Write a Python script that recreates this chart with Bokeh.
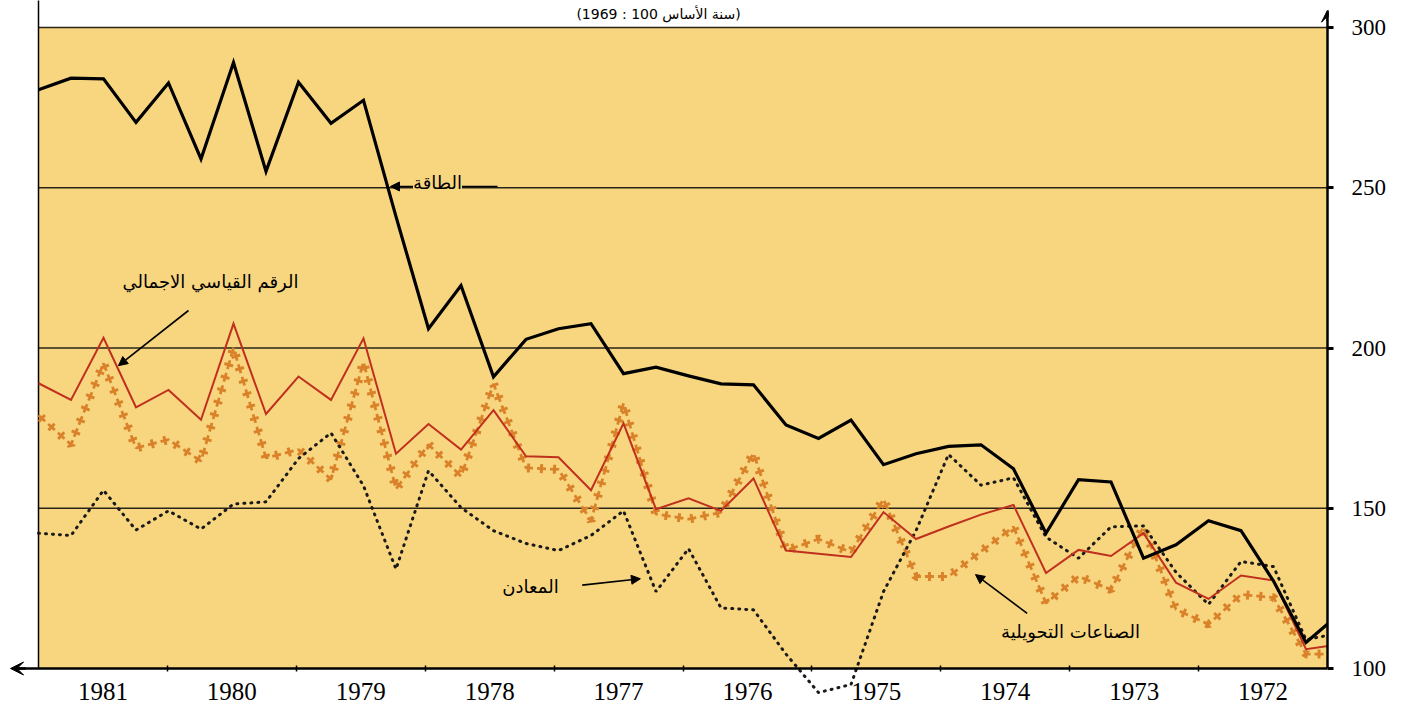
import numpy as np
from bokeh.plotting import figure
from bokeh.models import Range1d, LinearAxis, FixedTicker, Label, Arrow, VeeHead, NormalHead
from bokeh.embed import file_html
from bokeh.resources import INLINE

# ---------------- data (left -> right, quarterly) ----------------
years = ["1981", "1980", "1979", "1978", "1977", "1976", "1975", "1974", "1973", "1972"]
y_ticks = [100, 150, 200, 250, 300]

energy = [280.6, 284.2, 284.0, 270.4, 282.7, 259.0, 289.1, 255.1, 282.9, 270.1,
          277.3, 241.0, 206.0, 219.5, 191.0, 202.7, 206.0, 207.6, 192.0, 194.0,
          191.3, 188.8, 188.5, 176.0, 171.8, 177.5, 163.6, 167.0, 169.3, 169.8,
          162.3, 142.2, 158.9, 158.2, 134.4, 138.6, 146.1, 143.0, 127.3, 108.1, 116.8]
overall = [189.0, 183.8, 203.2, 181.5, 186.9, 177.6, 207.6, 179.4, 191.1, 183.8,
           203.0, 167.0, 176.3, 168.3, 180.6, 166.2, 165.9, 155.6, 176.5, 149.7,
           153.1, 149.2, 159.3, 136.8, 135.8, 134.8, 148.8, 140.4, 144.3, 148.0,
           151.0, 129.8, 137.0, 135.1, 142.2, 126.8, 121.7, 129.0, 127.5, 106.0, 107.5]
manufacturing = [179.0, 169.9, 195.2, 168.8, 171.4, 164.7, 200.0, 165.7, 168.3, 159.0,
                 195.7, 156.0, 169.9, 160.0, 188.8, 162.6, 162.1, 146.1, 182.7, 148.2,
                 146.6, 148.7, 167.2, 136.8, 140.4, 136.3, 152.8, 128.7, 128.7, 136.5,
                 144.2, 120.4, 128.7, 124.6, 144.2, 118.4, 113.8, 123.1, 122.1, 104.5, 104.5]
minerals = [142.2, 141.5, 155.6, 143.2, 149.2, 143.5, 151.3, 152.0, 165.5, 173.5,
            157.0, 131.0, 161.7, 150.2, 143.0, 139.0, 136.8, 141.5, 149.2, 124.0,
            137.4, 118.9, 118.3, 104.5, 92.5, 95.0, 124.0, 143.0, 166.8, 157.2,
            159.5, 141.0, 134.4, 144.2, 144.5, 130.0, 120.0, 133.4, 131.8, 109.0, 111.0]

title_text = "(سنة الأساس 100 : 1969)"
lbl_energy = "الطاقة"
lbl_overall = "الرقم القياسي الاجمالي"
lbl_minerals = "المعادن"
lbl_manuf = "الصناعات التحويلية"

# ---------------- layout / style ----------------
x = list(range(len(energy)))
PX = 32.5                      # pixels per quarter
PY = 3.205                     # pixels per index point
X0 = -38 / PX                  # frame starts 38 px left of the plot area
X1 = 1289 / PX                 # right edge of the plot area (right axis)
QPY = X1 / len(years)          # drawn width of one year, in quarters
YELLOW = "#F8D680"
SERIF = "Liberation Serif"
ARABIC = "DejaVu Sans"

p = figure(width=1410, height=713, output_backend="svg", toolbar_location=None,
           x_range=Range1d(X0, X1), y_range=Range1d(100 - 45 / PY, 300 + 27 / PY),
           x_axis_location=None, y_axis_location="right",
           min_border_left=0, min_border_top=0, min_border_bottom=0, min_border_right=83)
p.outline_line_color = None
p.xgrid.visible = False
p.ygrid.visible = False
p.background_fill_color = "white"

# yellow plot area
p.quad(left=0, right=X1, bottom=100, top=300, fill_color=YELLOW, line_color=None)
# horizontal rules
p.segment(x0=[0] * 4, x1=[X1] * 4, y0=y_ticks[1:], y1=y_ticks[1:], line_color="#2a2418", line_width=1.4)
# left border line
p.segment(x0=[0], x1=[0], y0=[100], y1=[312], line_color="black", line_width=1.5)

# right axis
yax = p.yaxis[0]
yax.ticker = FixedTicker(ticks=y_ticks)
yax.bounds = (100, 305.0)
yax.axis_line_width = 2.5
yax.major_tick_in = 0
yax.major_tick_out = 6
yax.major_tick_line_width = 3
yax.minor_tick_line_color = None
yax.major_label_text_font = SERIF
yax.major_label_text_font_size = "23px"
yax.major_label_text_color = "black"
yax.major_label_standoff = 18
p.add_layout(Arrow(end=VeeHead(size=12, fill_color="black", line_color="black"),
                   x_start=X1, y_start=302, x_end=X1, y_end=305.4, line_width=2.5))

# bottom axis at y = 100
mids = [QPY * (k + 0.5) for k in range(len(years))]
edges = [QPY * k for k in range(1, len(years))]
xax = LinearAxis(fixed_location=100, ticker=FixedTicker(ticks=mids, minor_ticks=edges),
                 major_label_overrides={m: yv for m, yv in zip(mids, years)},
                 bounds=(-0.75, X1))
xax.axis_line_width = 2.5
xax.major_tick_in = 0
xax.major_tick_out = 0
xax.minor_tick_in = 3
xax.minor_tick_out = 3
xax.minor_tick_line_width = 1.5
xax.major_label_text_font = SERIF
xax.major_label_text_font_size = "25px"
xax.major_label_text_color = "black"
xax.major_label_standoff = 11
p.add_layout(xax, "below")
p.add_layout(Arrow(end=VeeHead(size=13, fill_color="black", line_color="black"),
                   x_start=-0.4, y_start=100, x_end=-0.86, y_end=100, line_width=2.5))

# series
CROSS = "#D9822A"
p.line(x, manufacturing, line_color=CROSS, line_width=2.8, line_dash="9 4", line_cap="butt")
p.line(x, manufacturing, line_color=CROSS, line_width=9, line_dash="3 10", line_dash_offset=10, line_cap="butt")
p.line(x, minerals, line_color="#1a1a1a", line_width=3, line_dash="1 6", line_cap="round")
p.line(x, overall, line_color="#C0301E", line_width=2, line_join="miter")
p.line(x, energy, line_color="black", line_width=3.2, line_join="miter")

# annotations
def arrow(xs, ys, xe, ye):
    p.add_layout(Arrow(end=NormalHead(size=9, fill_color="black", line_color="black"),
                       x_start=xs, y_start=ys, x_end=xe, y_end=ye, line_width=1.6))

arrow((497 - 38) / PX, 250.4, (390 - 38) / PX, 250.4)
arrow(4.615, 211.7, 2.46, 194.5)
arrow(16.73, 126.0, 18.52, 128.0)
arrow(30.42, 117.2, 28.83, 129.3)

def label(xv, yv, txt, size="18px", bg=None):
    p.add_layout(Label(x=xv, y=yv, text=txt, text_font=ARABIC, text_font_size=size,
                       text_align="center", text_baseline="middle", text_color="black",
                       background_fill_color=bg))

label((437 - 38) / PX, 251.6, lbl_energy, bg=YELLOW)
label((210 - 38) / PX, 220.7, lbl_overall)
label((530 - 38) / PX, 125.6, lbl_minerals)
label((1070 - 38) / PX, 111.7, lbl_manuf)
label((658 - 38) / PX, 300 + 14 / PY, title_text, size="14px")

open("out.html", "w").write(file_html(p, INLINE))
